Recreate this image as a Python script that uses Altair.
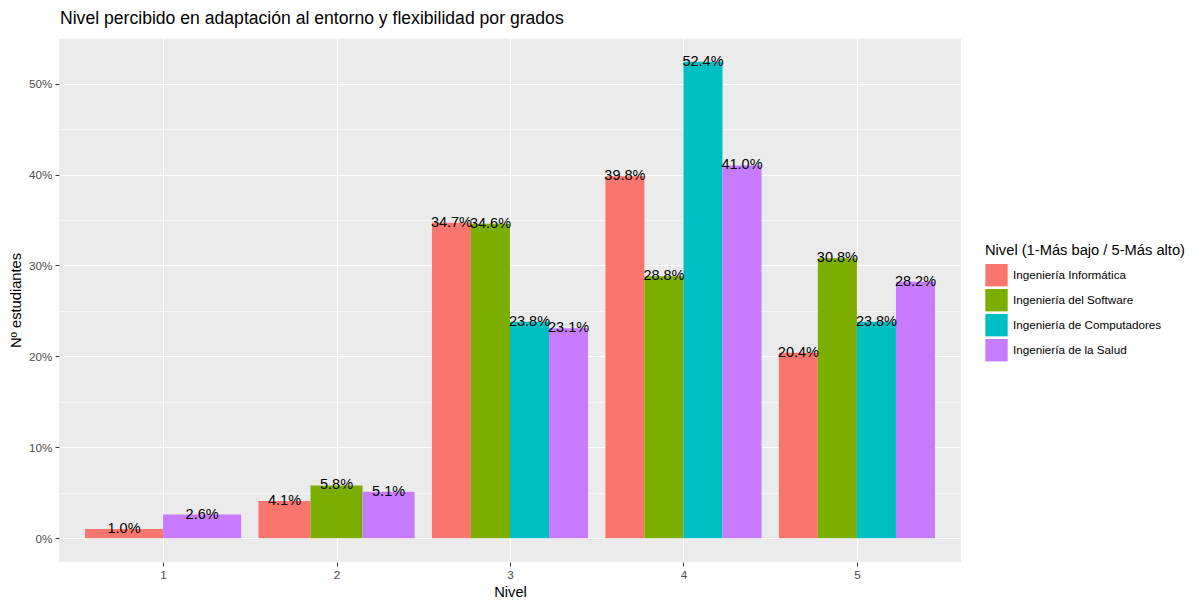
import altair as alt
import pandas as pd

grados = ["Ingeniería Informática", "Ingeniería del Software",
          "Ingeniería de Computadores", "Ingeniería de la Salud"]
colores = ["#F8766D", "#7CAE00", "#00BFC4", "#C77CFF"]

niveles = [1, 1, 2, 2, 2, 3, 3, 3, 3, 4, 4, 4, 4, 5, 5, 5, 5]
grado_idx = [0, 3, 0, 1, 3, 0, 1, 2, 3, 0, 1, 2, 3, 0, 1, 2, 3]
porcentajes = [1.0, 2.6, 4.1, 5.8, 5.1, 34.7, 34.6, 23.8, 23.1,
               39.8, 28.8, 52.4, 41.0, 20.4, 30.8, 23.8, 28.2]

df = pd.DataFrame({
    "nivel": niveles,
    "gi": grado_idx,
    "grado": [grados[i] for i in grado_idx],
    "pct": porcentajes,
})

FONT = "Liberation Sans"

base = alt.Chart(df).transform_joinaggregate(
    n="count()", groupby=["nivel"]
).transform_window(
    k="row_number()", groupby=["nivel"], sort=[alt.SortField("gi")]
).transform_calculate(
    x0="datum.nivel - 0.45 + 0.9 * (datum.k - 1) / datum.n",
    x1="datum.nivel - 0.45 + 0.9 * datum.k / datum.n",
    xc="datum.nivel - 0.45 + 0.9 * (datum.k - 0.5) / datum.n",
    lab="format(datum.pct, '.1f') + '%'",
)

xscale = alt.Scale(domain=[0.4, 5.6], nice=False, zero=False)
yscale = alt.Scale(domain=[-2.62, 55.02], nice=False, zero=False)

bars = base.mark_bar().encode(
    x=alt.X("x0:Q", scale=xscale, title="Nivel",
            axis=alt.Axis(values=[1, 2, 3, 4, 5], format="d", grid=True,
                          gridColor="white", gridWidth=1.1, domain=False,
                          tickColor="#333333", tickSize=4, labelColor="#4D4D4D",
                          labelFontSize=11.7, labelFont=FONT, labelPadding=3,
                          titleFont=FONT, titleFontSize=14.7, titleFontWeight="normal",
                          titleColor="black", titlePadding=4)),
    x2="x1:Q",
    y=alt.Y("pct:Q", scale=yscale, title="Nº estudiantes",
            axis=alt.Axis(values=[0, 5, 10, 15, 20, 25, 30, 35, 40, 45, 50, 55],
                          labelExpr="datum.value % 10 === 0 ? datum.value + '%' : ''",
                          grid=True, gridColor="white",
                          gridWidth={"condition": {"test": "datum.value % 10 !== 0", "value": 0.55}, "value": 1.1},
                          tickColor={"condition": {"test": "datum.value % 10 !== 0", "value": "transparent"}, "value": "#333333"},
                          tickSize=4, domain=False, labelColor="#4D4D4D",
                          labelFontSize=11.7, labelFont=FONT, labelPadding=3,
                          titleFont=FONT, titleFontSize=14.7, titleFontWeight="normal",
                          titleColor="black", titlePadding=5)),
    y2=alt.datum(0),
    color=alt.Color("grado:N", scale=alt.Scale(domain=grados, range=colores),
                    title="Nivel (1-Más bajo / 5-Más alto)",
                    legend=alt.Legend(orient="none", legendX=926, legendY=205,
                                      symbolType="square", symbolSize=500,
                                      symbolStrokeWidth=0, symbolOpacity=1,
                                      titleFont=FONT, titleFontSize=14.7, titleLimit=0,
                                      titleFontWeight="normal", titleColor="black",
                                      labelFont=FONT, labelFontSize=11.7, labelColor="black",
                                      labelLimit=0,
                                      rowPadding=2, titlePadding=6, labelOffset=5)),
)

texts = base.mark_text(font=FONT, fontSize=14.5, color="black", baseline="middle").encode(
    x="xc:Q",
    y="pct:Q",
    text="lab:N",
)

chart = alt.layer(bars, texts).properties(
    width=902, height=524,
    title=alt.TitleParams("Nivel percibido en adaptación al entorno y flexibilidad por grados",
                          anchor="start", frame="group", font=FONT, fontSize=17.6,
                          fontWeight="normal", color="black", offset=10, dx=1),
    autosize=alt.AutoSizeParams(type="none"),
    padding={"left": 51, "top": 30, "right": 229, "bottom": 38},
).configure_view(fill="#EBEBEB", stroke=None)

chart.save("out.html", embed_options={"renderer": "svg", "actions": False})
